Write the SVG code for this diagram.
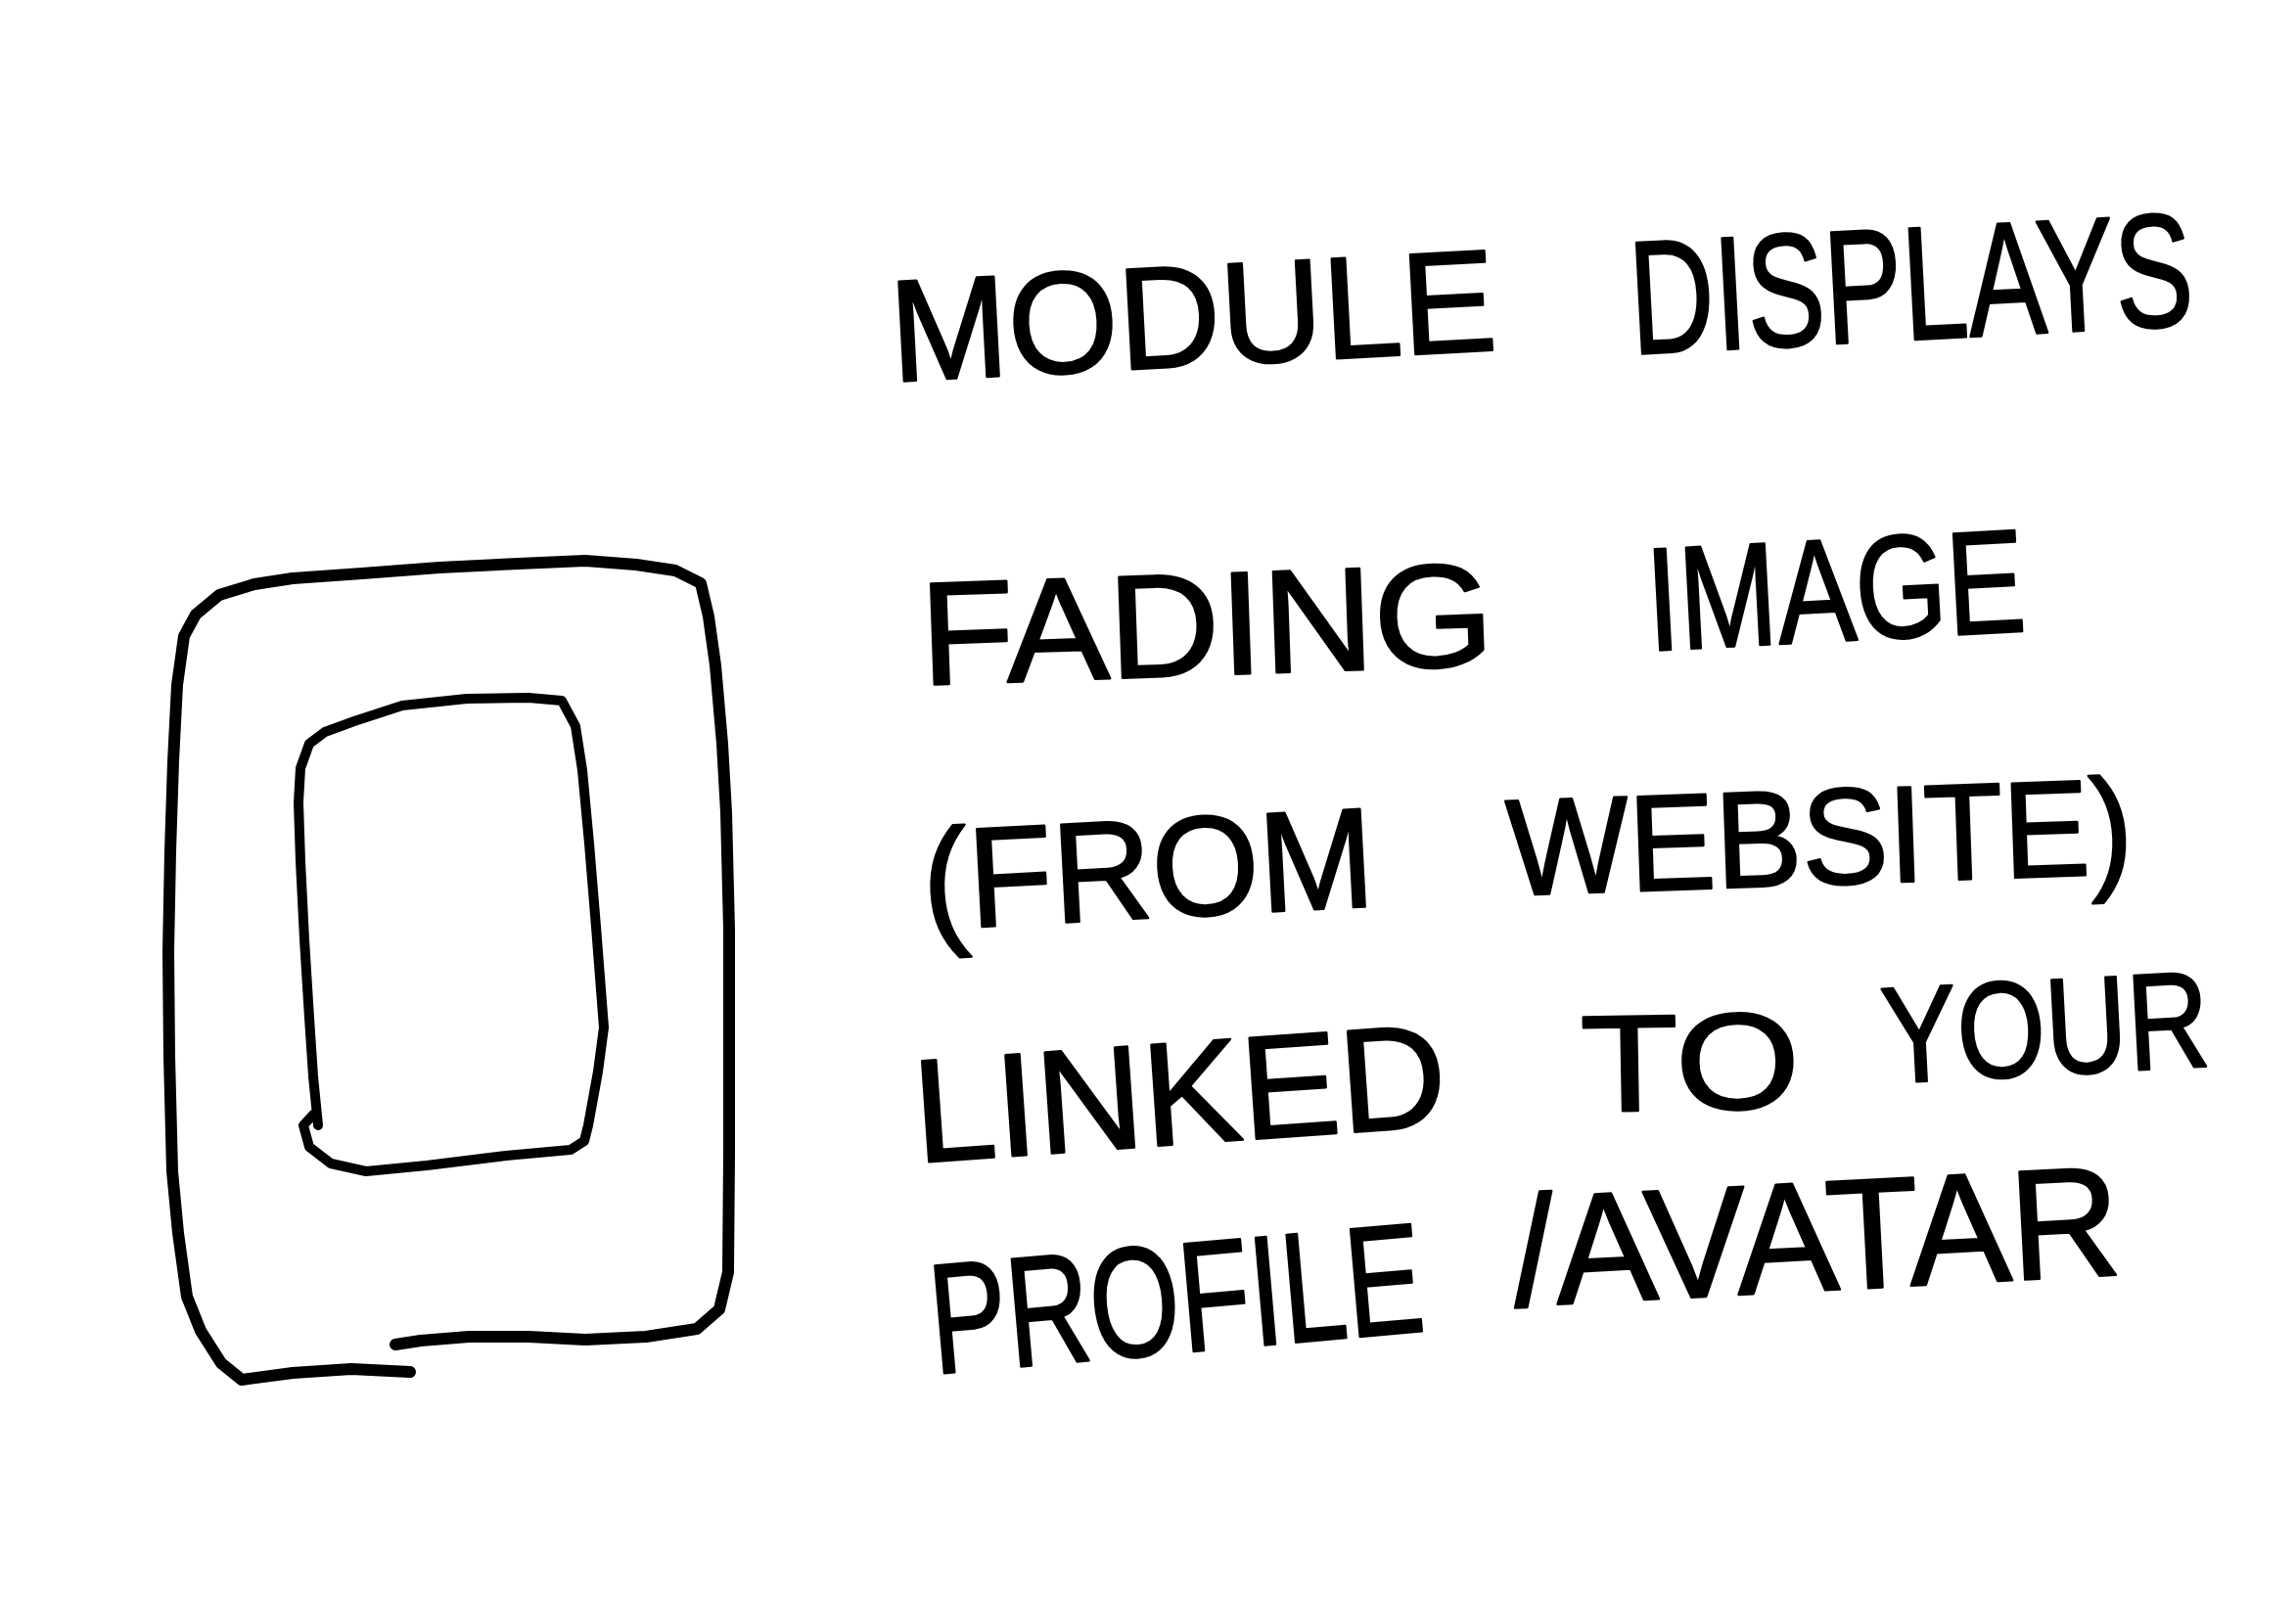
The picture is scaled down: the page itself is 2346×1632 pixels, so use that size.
<svg xmlns="http://www.w3.org/2000/svg" width="2346" height="1632" viewBox="0 0 2346 1632">
  <style>
    .ink { fill: none; stroke: #000; stroke-linecap: round; stroke-linejoin: round; }
    .outer { stroke-width: 12; }
    .inner { stroke-width: 10; }
    .hand { font-family: "Liberation Sans", "DejaVu Sans", sans-serif; fill: #000; stroke: #000; stroke-width: 2.5; stroke-linejoin: round; }
  </style>
  <rect width="2346" height="1632" fill="#fff"/>

  <!-- device frame -->
  <g id="outer-frame">
    <path class="ink outer" d="M419,1402 L359,1399 L299,1403 L247,1410 L226,1393 L205,1360 L191,1325 L182,1260 L176,1197 L173,1080 L172,972 L174,870 L177,778 L181,700 L188,650 L200,628 L224,608 L260,597 L299,591 L370,586 L449,580 L530,576 L598,573 L650,577 L690,583 L716,596 L724,630 L731,680 L738,760 L742,830 L745,950 L745,1047 L745,1180 L744,1300 L735,1338 L712,1358 L660,1366 L598,1369 L540,1366 L479,1366 L430,1370 L404,1374"/>
  </g>

  <!-- image area -->
  <g id="inner-frame">
    <path class="ink inner" d="M325,1150 L320,1100 L316,1040 L311,960 L307,880 L305,820 L307,785 L316,760 L332,748 L362,737 L411,721 L477,714 L540,713 L574,716 L588,742 L595,787 L602,862 L609,947 L617,1050 L611,1095 L601,1150 L597,1166 L583,1175 L517,1181 L436,1191 L374,1197 L338,1189 L316,1172 L310,1150 L320,1139"/>
  </g>

  <!-- handwritten caption -->
  <g id="caption">
    <text class="hand" font-size="148" x="912" y="390" textLength="620" lengthAdjust="spacingAndGlyphs" transform="rotate(-3 912 390)">MODULE</text>
    <text class="hand" font-size="165" x="1668" y="362" textLength="576" lengthAdjust="spacingAndGlyphs" transform="rotate(-3 1668 362)">DISPLAYS</text>

    <text class="hand" font-size="150" x="942" y="700" textLength="586" lengthAdjust="spacingAndGlyphs" transform="rotate(-2 942 700)">FADING</text>
    <text class="hand" font-size="150" x="1685" y="665" textLength="387" lengthAdjust="spacingAndGlyphs" transform="rotate(-3 1685 665)">IMAGE</text>

    <text class="hand" font-size="145" x="945" y="950" textLength="462" lengthAdjust="spacingAndGlyphs" transform="rotate(-3 945 950)">(FROM</text>
    <text class="hand" font-size="140" x="1541" y="915" textLength="640" lengthAdjust="spacingAndGlyphs" transform="rotate(-2 1541 915)">WEBSITE)</text>

    <text class="hand" font-size="150" x="937" y="1188" textLength="545" lengthAdjust="spacingAndGlyphs" transform="rotate(-4 937 1188)">LINKED</text>
    <text class="hand" font-size="140" x="1616" y="1136" textLength="224" lengthAdjust="spacingAndGlyphs" transform="rotate(-1 1616 1136)">TO</text>
    <text class="hand" font-size="140" x="1925" y="1107" textLength="335" lengthAdjust="spacingAndGlyphs" transform="rotate(-3 1925 1107)">YOUR</text>

    <text class="hand" font-size="160" x="955" y="1404" textLength="505" lengthAdjust="spacingAndGlyphs" transform="rotate(-5 955 1404)">PROFILE</text>
    <text class="hand" font-size="160" x="1548" y="1335" textLength="622" lengthAdjust="spacingAndGlyphs" transform="rotate(-3 1548 1335)">/AVATAR</text>
  </g>
</svg>
